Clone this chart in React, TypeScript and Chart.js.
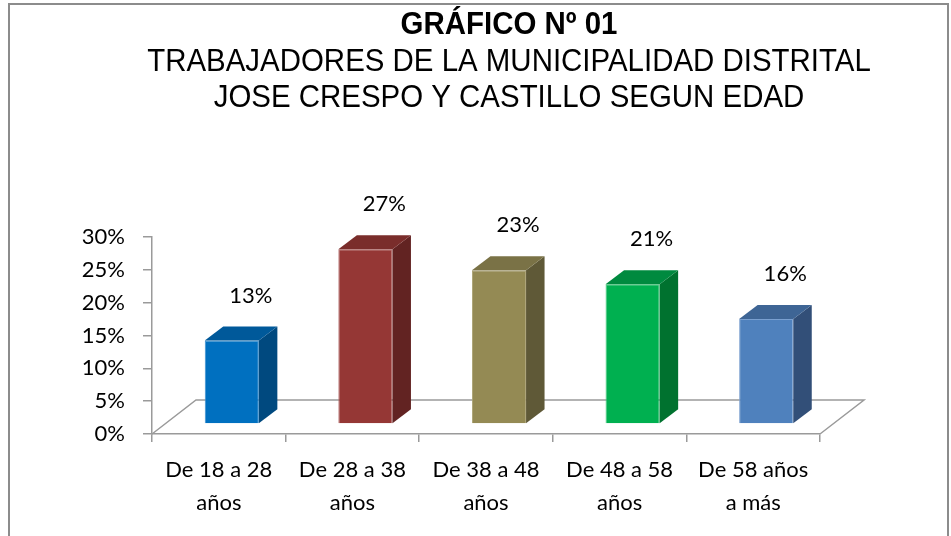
import React, { useEffect, useRef } from "react";
import { Chart, registerables } from "chart.js";

Chart.register(...registerables);

const categories: string[][] = [
  ["De 18 a 28", "años"],
  ["De 28 a 38", "años"],
  ["De 38 a 48", "años"],
  ["De 48 a 58", "años"],
  ["De 58 años", "a más"],
];
const values: number[] = [0.127, 0.266, 0.234, 0.213, 0.16];
const frontColors: string[] = ["#0070C0", "#953735", "#948A54", "#00B050", "#4F81BD"];
const topColors: string[] = ["#00599A", "#7A2D2B", "#7A7246", "#008A3F", "#3E6595"];
const sideColors: string[] = ["#00497F", "#622322", "#5F5937", "#00722F", "#324F78"];
const edgeColors: string[] = ["#3A8FD0", "#B06060", "#ABA275", "#40C878", "#7AA0D0"];
const titleLines: string[] = [
  "GRÁFICO Nº 01",
  "TRABAJADORES DE LA MUNICIPALIDAD DISTRITAL",
  "JOSE CRESPO Y CASTILLO SEGUN EDAD",
];
const yTicks: number[] = [0, 0.05, 0.1, 0.15, 0.2, 0.25, 0.3];

const AXIS_GRAY = "#9A9A9A";
const LABEL_FONT = "Lato, 'Noto Sans', sans-serif";
// depth geometry (pixels)
const FLOOR_D = { x: 44, y: -34 };
const FRONT_OFF = { x: 13, y: -10 };
const BAR_D = { x: 18.5, y: -14 };

const pct = (v: number) => `${Math.round(v * 100)}%`;

const threeD = {
  id: "threeD",
  beforeDatasetsDraw(chart: any) {
    const { ctx } = chart;
    const xs = chart.scales.x;
    const ys = chart.scales.y;
    const base = ys.getPixelForValue(0);
    const l = xs.left;
    const r = xs.right;
    ctx.save();
    ctx.strokeStyle = AXIS_GRAY;
    ctx.lineWidth = 1.5;
    ctx.beginPath();
    ctx.moveTo(l, base);
    ctx.lineTo(l + FLOOR_D.x, base + FLOOR_D.y);
    ctx.lineTo(r + FLOOR_D.x, base + FLOOR_D.y);
    ctx.lineTo(r, base);
    ctx.stroke();
    ctx.restore();
    ctx.save();
    ctx.translate(FRONT_OFF.x, FRONT_OFF.y);
  },
  afterDatasetsDraw(chart: any) {
    const { ctx } = chart;
    ctx.restore();
    const meta = chart.getDatasetMeta(0);
    meta.data.forEach((el: any, i: number) => {
      const p = el.getProps(["x", "y", "base", "width"], true);
      const xl = p.x - p.width / 2 + FRONT_OFF.x;
      const xr = p.x + p.width / 2 + FRONT_OFF.x;
      const yt = p.y + FRONT_OFF.y;
      const yb = p.base + FRONT_OFF.y;
      ctx.save();
      // side
      ctx.fillStyle = sideColors[i];
      ctx.beginPath();
      ctx.moveTo(xr, yt);
      ctx.lineTo(xr + BAR_D.x, yt + BAR_D.y);
      ctx.lineTo(xr + BAR_D.x, yb + BAR_D.y);
      ctx.lineTo(xr, yb);
      ctx.closePath();
      ctx.fill();
      // top
      ctx.fillStyle = topColors[i];
      ctx.beginPath();
      ctx.moveTo(xl, yt);
      ctx.lineTo(xl + BAR_D.x, yt + BAR_D.y);
      ctx.lineTo(xr + BAR_D.x, yt + BAR_D.y);
      ctx.lineTo(xr, yt);
      ctx.closePath();
      ctx.fill();
      // label
      ctx.fillStyle = "#000";
      ctx.font = `22px ${LABEL_FONT}`;
      ctx.textAlign = "center";
      ctx.textBaseline = "middle";
      ctx.fillText(pct(values[i]), p.x + FRONT_OFF.x + 19, yt - 45);
      ctx.restore();
    });
  },
  afterDraw(chart: any) {
    const { ctx } = chart;
    ctx.save();
    // outer frame
    ctx.strokeStyle = "#8C8C8C";
    ctx.lineWidth = 2;
    ctx.strokeRect(9, 4, 939, 545);
    // title
    ctx.fillStyle = "#000";
    ctx.textAlign = "center";
    ctx.textBaseline = "middle";
    const cx = 509;
    const ys = [25, 62, 98];
    titleLines.forEach((t, i) => {
      ctx.save();
      ctx.translate(cx, ys[i]);
      ctx.scale(0.92, 1);
      ctx.font = `${i === 0 ? "bold " : ""}32px 'Liberation Sans', Arial, sans-serif`;
      ctx.fillText(t, 0, 0);
      ctx.restore();
    });
    ctx.restore();
  },
};

export default function App() {
  const ref = useRef<HTMLCanvasElement | null>(null);
  useEffect(() => {
    if (!ref.current) return;
    const chart = new Chart(ref.current, {
      type: "bar",
      data: {
        labels: categories,
        datasets: [
          {
            data: values,
            backgroundColor: frontColors,
            borderColor: edgeColors,
            borderWidth: 1,
            barPercentage: 0.405,
            categoryPercentage: 1,
            clip: false as any,
          },
        ],
      },
      options: {
        responsive: false,
        animation: false,
        devicePixelRatio: 1,
        layout: { padding: { left: 80, right: 131, top: 237, bottom: 0 } },
        plugins: {
          legend: { display: false },
          title: { display: false },
          tooltip: { enabled: false },
        },
        scales: {
          x: {
            grid: {
              offset: true,
              drawOnChartArea: false,
              drawTicks: true,
              tickLength: 8,
              color: AXIS_GRAY,
              lineWidth: 1.5,
            },
            border: { display: true, color: AXIS_GRAY, width: 1.5 },
            ticks: {
              color: "#000",
              padding: 11,
              maxRotation: 0,
              autoSkip: false,
              font: { family: LABEL_FONT, size: 22, lineHeight: 1.5 },
            },
            afterFit: (s: any) => {
              s.height = 102;
            },
          },
          y: {
            min: 0,
            max: 0.3,
            afterBuildTicks: (s: any) => {
              s.ticks = yTicks.map((v) => ({ value: v }));
            },
            grid: {
              drawOnChartArea: false,
              drawTicks: true,
              tickLength: 9,
              color: AXIS_GRAY,
              lineWidth: 1.5,
            },
            border: { display: true, color: AXIS_GRAY, width: 1.5 },
            ticks: {
              color: "#000",
              padding: 18,
              font: { family: LABEL_FONT, size: 22 },
              callback: (v: any) => pct(Number(v)),
            },
            afterFit: (s: any) => {
              s.width = 72;
            },
          },
        },
      },
      plugins: [threeD],
    });
    return () => chart.destroy();
  }, []);
  return (
    <div style={{ position: "absolute", left: 0, top: 0, width: 951, height: 536, background: "#fff" }}>
      <canvas ref={ref} width={951} height={536} style={{ display: "block" }} />
    </div>
  );
}
